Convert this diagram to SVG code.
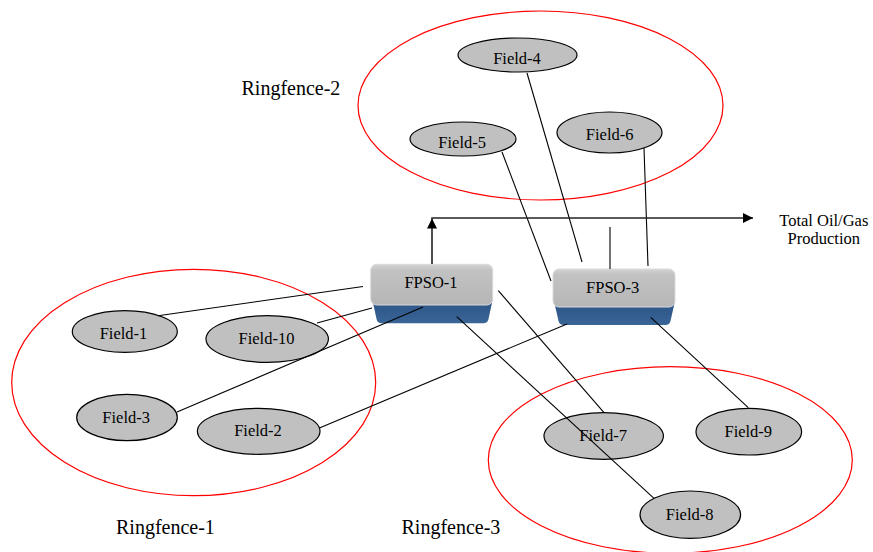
<svg xmlns="http://www.w3.org/2000/svg" width="873" height="552" viewBox="0 0 873 552">
  <defs>
    <linearGradient id="topFace" x1="0" y1="0" x2="0" y2="1">
      <stop offset="0" stop-color="#d4d4d4"/>
      <stop offset="0.15" stop-color="#c2c2c2"/>
      <stop offset="1" stop-color="#b6b6b6"/>
    </linearGradient>
    <linearGradient id="baseFace" x1="0" y1="0" x2="0" y2="1">
      <stop offset="0" stop-color="#2b5284"/>
      <stop offset="1" stop-color="#3a6597"/>
    </linearGradient>
    <marker id="arrow" viewBox="0 0 10 10" refX="10" refY="5" markerWidth="10" markerHeight="10" markerUnits="userSpaceOnUse" orient="auto">
      <path d="M0,0 L10,5 L0,10 Z" fill="#000"/>
    </marker>
    <style>
      .ring { fill: none; stroke: #ff0000; stroke-width: 1.2; }
      .field { fill: #c0c0c0; stroke: #000; stroke-width: 1.2; }
      .lbl { font-family: "Liberation Serif", "Times New Roman", serif; fill: #000; }
      .fld { font-size: 16.5px; text-anchor: middle; }
      .ringlbl { font-size: 20px; }
      .fpso { font-size: 16.5px; text-anchor: middle; }
      .link { stroke: #000; stroke-width: 1.1; fill: none; }
      .flow { stroke: #222; stroke-width: 1.6; fill: none; }
      .face { fill: url(#topFace); stroke: #dadada; stroke-width: 1; }
      .base { fill: url(#baseFace); }
    </style>
  </defs>

  <rect width="873" height="552" fill="#ffffff"/>

  <!-- ringfence boundaries -->
  <g id="ringfence-1">
    <ellipse class="ring" cx="193.7" cy="382.5" rx="182" ry="113.2"/>
    <text class="lbl ringlbl" x="116" y="534">Ringfence-1</text>
  </g>
  <g id="ringfence-2">
    <ellipse class="ring" cx="540.5" cy="105.5" rx="182.5" ry="94.5"/>
    <text class="lbl ringlbl" x="241.5" y="95">Ringfence-2</text>
  </g>
  <g id="ringfence-3">
    <ellipse class="ring" cx="670.3" cy="460" rx="182" ry="93.3"/>
    <text class="lbl ringlbl" x="401.5" y="534">Ringfence-3</text>
  </g>

  <!-- FPSO units -->
  <g id="fpso-1">
    <path class="base" d="M372,298 L493,298 L488.5,319 Q487.5,323.3 483.5,323.3 L381.5,323.3 Q377.5,323.3 376.5,319 Z"/>
    <rect class="face" x="370.7" y="264.3" width="122" height="40.7" rx="6" ry="6"/>
    <text class="lbl fpso" x="431" y="287.7">FPSO-1</text>
  </g>
  <g id="fpso-3">
    <path class="base" d="M554,301 L675,301 L670.5,321 Q669.5,325 665.5,325 L563.5,325 Q559.5,325 558.5,321 Z"/>
    <rect class="face" x="553" y="269" width="122" height="38" rx="6" ry="6"/>
    <text class="lbl fpso" x="612.7" y="292.7">FPSO-3</text>
  </g>

  <!-- fields -->
  <g id="field-1">
    <ellipse class="field" cx="124.8" cy="331.5" rx="52.5" ry="20.8"/>
    <text class="lbl fld" x="123.5" y="339.3">Field-1</text>
  </g>
  <g id="field-10">
    <ellipse class="field" cx="267.2" cy="339" rx="61.2" ry="23.3"/>
    <text class="lbl fld" x="266.5" y="344">Field-10</text>
  </g>
  <g id="field-3">
    <ellipse class="field" cx="127" cy="417.5" rx="50.3" ry="23.2"/>
    <text class="lbl fld" x="126.2" y="422.7">Field-3</text>
  </g>
  <g id="field-2">
    <ellipse class="field" cx="258.7" cy="431.3" rx="61.3" ry="23"/>
    <text class="lbl fld" x="258" y="436">Field-2</text>
  </g>
  <g id="field-4">
    <ellipse class="field" cx="517.5" cy="55" rx="59.5" ry="17"/>
    <text class="lbl fld" x="517" y="64.3">Field-4</text>
  </g>
  <g id="field-5">
    <ellipse class="field" cx="463" cy="139" rx="53" ry="17"/>
    <text class="lbl fld" x="462.2" y="147.7">Field-5</text>
  </g>
  <g id="field-6">
    <ellipse class="field" cx="609.5" cy="132.5" rx="52.5" ry="20.5"/>
    <text class="lbl fld" x="609.7" y="140">Field-6</text>
  </g>
  <g id="field-7">
    <ellipse class="field" cx="603.7" cy="436" rx="59.7" ry="23.3"/>
    <text class="lbl fld" x="603.2" y="440.7">Field-7</text>
  </g>
  <g id="field-9">
    <ellipse class="field" cx="748.8" cy="431.7" rx="52.8" ry="23.3"/>
    <text class="lbl fld" x="748.3" y="436.7">Field-9</text>
  </g>
  <g id="field-8">
    <ellipse class="field" cx="690.3" cy="514.7" rx="50.3" ry="23.7"/>
    <text class="lbl fld" x="689.7" y="520">Field-8</text>
  </g>

  <!-- connectors, drawn over the units and fields -->
  <g id="connectors">
    <line class="link" x1="158" y1="315.7" x2="363" y2="286.5"/>
    <line class="link" x1="317" y1="323" x2="372" y2="308"/>
    <line class="link" x1="177" y1="412" x2="423" y2="307"/>
    <line class="link" x1="320" y1="427.7" x2="567" y2="324"/>
    <line class="link" x1="498.3" y1="290.7" x2="604" y2="412.7"/>
    <line class="link" x1="456.7" y1="316.7" x2="654" y2="498.3"/>
    <line class="link" x1="650.7" y1="317.3" x2="748.3" y2="407.7"/>
    <line class="link" x1="527" y1="73" x2="582" y2="262"/>
    <line class="link" x1="502" y1="152" x2="551" y2="281"/>
    <line class="link" x1="644" y1="148" x2="648" y2="266"/>
    <line class="link" x1="610" y1="227" x2="610" y2="269"/>
    <line class="flow" x1="432" y1="264" x2="432" y2="218.5" marker-end="url(#arrow)"/>
    <line class="flow" x1="431.2" y1="218" x2="753" y2="218" marker-end="url(#arrow)"/>
  </g>

  <!-- output label -->
  <g id="total-production">
    <text class="lbl" font-size="16.5" text-anchor="middle" x="823.8" y="225.5">Total Oil/Gas</text>
    <text class="lbl" font-size="16.5" text-anchor="middle" x="823.8" y="243.5">Production</text>
  </g>
</svg>
